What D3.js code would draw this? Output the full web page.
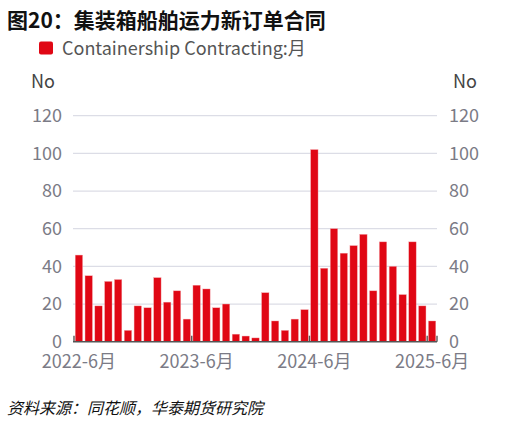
<!DOCTYPE html>
<meta charset="utf-8">
<script src="https://d3js.org/d3.v7.min.js"></script>
<style>
  body { margin: 0; background: #fff; }
  text { font-family: "Noto Sans CJK SC", "Noto Sans", sans-serif; }
</style>
<div id="chart"></div>
<script>
  // 月份和新订单数据
  const months = ["2022-6","2022-7","2022-8","2022-9","2022-10","2022-11","2022-12",
    "2023-1","2023-2","2023-3","2023-4","2023-5","2023-6","2023-7","2023-8","2023-9",
    "2023-10","2023-11","2023-12","2024-1","2024-2","2024-3","2024-4","2024-5","2024-6",
    "2024-7","2024-8","2024-9","2024-10","2024-11","2024-12","2025-1","2025-2","2025-3",
    "2025-4","2025-5","2025-6"];
  const orders = [46, 35, 19, 32, 33, 6, 19, 18, 34, 21, 27, 12,
    30, 28, 18, 20, 4, 3, 2, 26, 11, 6, 12, 17,
    102, 39, 60, 47, 51, 57, 27, 53, 40, 25, 53, 19, 11];
  const xTicks = ["2022-6", "2023-6", "2024-6", "2025-6"];
  const yTicks = [0, 20, 40, 60, 80, 100, 120];

  const W = 519, H = 426;
  const plot = {left: 74, right: 437, top: 115.7, bottom: 341.7};

  const svg = d3.select("#chart").append("svg")
    .attr("width", W).attr("height", H);

  // 标题
  svg.append("text")
    .attr("x", 7).attr("y", 28)
    .attr("font-size", 21).attr("font-weight", "bold").attr("fill", "#111")
    .text("图20：集装箱船舶运力新订单合同");

  // 图例
  svg.append("rect")
    .attr("x", 39).attr("y", 41.5).attr("width", 14).attr("height", 13)
    .attr("rx", 2).attr("fill", "#e00714");
  svg.append("text")
    .attr("x", 62).attr("y", 54.5)
    .attr("font-size", 18).attr("fill", "#555")
    .text("Containership Contracting:月");

  const x = d3.scaleBand().domain(months).range([plot.left, plot.right]).padding(0);
  const y = d3.scaleLinear().domain([0, 120]).range([plot.bottom, plot.top]);

  // 网格线
  svg.append("g").selectAll("line")
    .data(yTicks.filter(d => d > 0))
    .join("line")
    .attr("x1", plot.left - 1).attr("x2", plot.right)
    .attr("y1", d => y(d)).attr("y2", d => y(d))
    .attr("stroke", "#dcdde6").attr("stroke-width", 1.3);

  // 左右 y 轴
  const yl = svg.append("g")
    .attr("transform", `translate(${plot.left - 12},0)`)
    .call(d3.axisLeft(y).tickValues(yTicks).tickSize(0).tickPadding(0));
  const yr = svg.append("g")
    .attr("transform", `translate(${plot.right + 12},0)`)
    .call(d3.axisRight(y).tickValues(yTicks).tickSize(0).tickPadding(0));
  [yl, yr].forEach(g => {
    g.select(".domain").remove();
    g.selectAll("text").attr("font-size", 18).attr("fill", "#7b7b86")
      .attr("font-family", "Noto Sans CJK SC, Noto Sans, sans-serif");
  });

  svg.append("text").attr("x", 31).attr("y", 88)
    .attr("font-size", 18).attr("fill", "#444").text("No");
  svg.append("text").attr("x", 453).attr("y", 88)
    .attr("font-size", 18).attr("fill", "#444").text("No");

  // 柱子
  const bw = x.bandwidth() * 0.75;
  svg.append("g").selectAll("rect")
    .data(orders)
    .join("rect")
    .attr("x", (d, i) => x(months[i]) + (x.bandwidth() - bw) / 2)
    .attr("y", d => y(d))
    .attr("width", bw)
    .attr("height", d => plot.bottom - y(d))
    .attr("fill", "#e00714")
    .attr("stroke", "#f2a3a8").attr("stroke-width", 0.4);

  // x 轴
  svg.append("line")
    .attr("x1", plot.left - 1).attr("x2", plot.right)
    .attr("y1", plot.bottom).attr("y2", plot.bottom)
    .attr("stroke", "#555").attr("stroke-width", 1.6);
  const tickPos = xTicks.map(m => x(m)).concat([plot.right]);
  svg.append("g").selectAll("line")
    .data(tickPos)
    .join("line")
    .attr("x1", d => d).attr("x2", d => d)
    .attr("y1", plot.bottom).attr("y2", plot.bottom - 6)
    .attr("stroke", "#555").attr("stroke-width", 1.4);

  const xa = svg.append("g")
    .attr("transform", `translate(0,${plot.bottom + 14})`)
    .call(d3.axisBottom(x).tickValues(xTicks).tickSize(0).tickPadding(0)
      .tickFormat(d => d + "月"));
  xa.select(".domain").remove();
  xa.selectAll("text").attr("font-size", 18).attr("fill", "#7b7b86")
    .attr("font-family", "Noto Sans CJK SC, Noto Sans, sans-serif");

  // 资料来源
  svg.append("text")
    .attr("x", 7).attr("y", 414)
    .attr("font-size", 16).attr("font-style", "italic").attr("fill", "#111")
    .text("资料来源：同花顺，华泰期货研究院");
</script>
